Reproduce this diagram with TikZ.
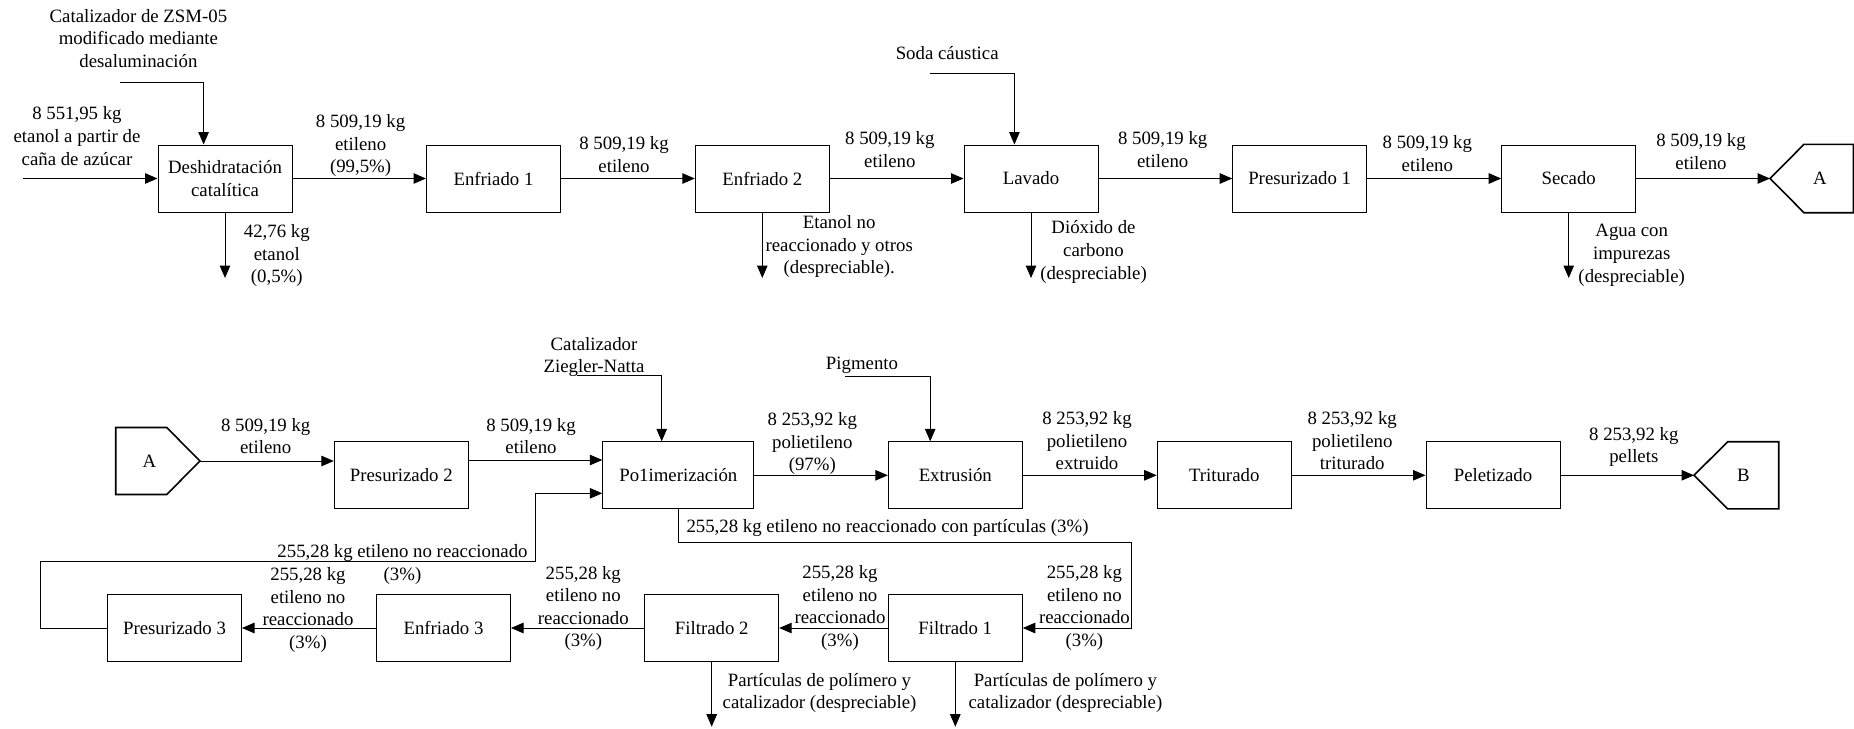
\documentclass[tikz,border=0pt]{standalone}
\usepackage{fontspec}
\setmainfont{Liberation Serif}
\usetikzlibrary{arrows.meta}
\begin{document}
\begin{tikzpicture}[x=1pt,y=-1pt,
  every node/.style={font=\fontsize{18.8}{22.6}\selectfont, inner sep=0pt},
  box/.style={draw, line width=1pt, minimum width=134pt, minimum height=67pt, align=center},
  widebox/.style={box, minimum width=151pt},
  lbl/.style={align=center},
  flow/.style={line width=1pt, -{Triangle[length=12.5pt,width=10.5pt]}},
  offpage/.style={draw, line width=1.6pt, line join=miter}
]
\useasboundingbox (0,0) rectangle (1854,728);

% ---------- ethylene production line ----------
\node[box] (deshi) at (225,178.5) {Deshidratación\\catalítica};
\node[box] (enf1) at (493.5,178.5) {Enfriado 1};
\node[box] (enf2) at (762.3,178.5) {Enfriado 2};
\node[box] (lav) at (1031,178.5) {Lavado};
\node[box] (pres1) at (1299.7,178.5) {Presurizado 1};
\node[box] (sec) at (1568.7,178.5) {Secado};

% off-page connector A (outgoing)
\coordinate (A1tip) at (1770,178.5);
\node (A1) at (1820,178.5) {A};
\draw[offpage] (A1tip) -- ++(34,-34.2) -- ++(49.3,0) -- ++(0,68.4) -- ++(-49.3,0) -- cycle;

\coordinate (inS) at (22.9,178.5);
\coordinate (catS) at (119.8,82);
\coordinate (sodaS) at (930.2,73);
\coordinate (deshiO) at (225,278);
\coordinate (enf2O) at (762.3,278);
\coordinate (lavO) at (1031,278);
\coordinate (secO) at (1568.7,278);

\draw[flow] (inS) -- (deshi.west);
\draw[flow] (catS) -| ([xshift=-21.4pt]deshi.north);
\draw[flow] (deshi) -- (enf1);
\draw[flow] (enf1) -- (enf2);
\draw[flow] (enf2) -- (lav);
\draw[flow] (sodaS) -| ([xshift=-16.6pt]lav.north);
\draw[flow] (lav) -- (pres1);
\draw[flow] (pres1) -- (sec);
\draw[flow] (sec) -- (A1tip);
\draw[flow] (deshi.south) -- (deshiO);
\draw[flow] (enf2.south) -- (enf2O);
\draw[flow] (lav.south) -- (lavO);
\draw[flow] (sec.south) -- (secO);

\node[lbl] (tIn) at (77,136) {8 551,95 kg\\etanol a partir de\\caña de azúcar};
\node[lbl] (tCat) at (138.4,38.5) {Catalizador de ZSM-05\\modificado mediante\\desaluminación};
\node[lbl] (t1) at (360.6,145.7) {8 509,19 kg\\etileno\\(99,5\%)};
\node[lbl] (tEt) at (276.8,255.7) {42,76 kg\\etanol\\(0,5\%)};
\node[lbl] (t2) at (624,154.5) {8 509,19 kg\\etileno};
\node[lbl] (t3) at (889.8,149.5) {8 509,19 kg\\etileno};
\node[lbl] (tSoda) at (947.2,53) {Soda cáustica};
\node[lbl] (tEnf2) at (839.2,246.5) {Etanol no\\reaccionado y otros\\(despreciable).};
\node[lbl] (tLav) at (1093.5,252) {Dióxido de\\carbono\\(despreciable)};
\node[lbl] (t4) at (1162.7,149.5) {8 509,19 kg\\etileno};
\node[lbl] (t5) at (1427.3,153.5) {8 509,19 kg\\etileno};
\node[lbl] (tSec) at (1631.7,255.3) {Agua con\\impurezas\\(despreciable)};
\node[lbl] (t6) at (1701,151.3) {8 509,19 kg\\etileno};

% ---------- polyethylene line ----------
% off-page connector A (incoming)
\coordinate (A2tip) at (200,461);
\node (A2) at (149.3,461) {A};
\draw[offpage] (A2tip) -- ++(-33.3,-33.5) -- ++(-51,0) -- ++(0,67) -- ++(51,0) -- cycle;

\node[box] (pres2) at (401.3,475.3) {Presurizado 2};
\node[widebox] (polim) at (678.3,475.3) {Po1imerización};
\node[box] (extr) at (955.3,475.3) {Extrusión};
\node[box] (trit) at (1224.2,475.3) {Triturado};
\node[box] (pelet) at (1493,475.3) {Peletizado};

% off-page connector B (outgoing)
\coordinate (Btip) at (1694,475.3);
\node (B) at (1743.3,475.3) {B};
\draw[offpage] (Btip) -- ++(33.7,-33.6) -- ++(51,0) -- ++(0,67.2) -- ++(-51,0) -- cycle;

% ---------- recovery of unreacted ethylene ----------
\node[box] (pres3) at (174.5,628) {Presurizado 3};
\node[box] (enf3) at (443.5,628) {Enfriado 3};
\node[box] (filt2) at (711.7,628) {Filtrado 2};
\node[box] (filt1) at (955.3,628) {Filtrado 1};

\coordinate (znS) at (577.3,375.7);
\coordinate (pigS) at (845.2,376);
\coordinate (f2O) at (711.7,726.7);
\coordinate (f1O) at (955.3,726.7);
\coordinate (recL) at (40,561.7);
\coordinate (recR) at (535.8,493.3);
\coordinate (sepR) at (1131.8,542.3);

\draw[flow] (A2tip) -- (A2tip -| pres2.west);
\draw[flow] ([yshift=15.3pt]pres2.east) -- ([yshift=15.3pt]pres2.east -| polim.west);
\draw[flow] (znS) -| ([xshift=-16.6pt]polim.north);
\draw[flow] (polim) -- (extr);
\draw[flow] (pigS) -| ([xshift=-25.1pt]extr.north);
\draw[flow] (extr) -- (trit);
\draw[flow] (trit) -- (pelet);
\draw[flow] (pelet) -- (Btip);
\draw[flow] (polim.south) |- (sepR) |- (filt1.east);
\draw[flow] (filt1) -- (filt2);
\draw[flow] (filt2) -- (enf3);
\draw[flow] (enf3) -- (pres3);
\draw[flow] (pres3.west) -| (recL) -| (recR) -- (recR -| polim.west);
\draw[flow] (filt2.south) -- (f2O);
\draw[flow] (filt1.south) -- (f1O);

\node[lbl] (tZN) at (594,357) {Catalizador\\Ziegler-Natta};
\node[lbl] (tPig) at (862,365) {Pigmento};
\node[lbl] (t7) at (265.7,436) {8 509,19 kg\\etileno};
\node[lbl] (t8) at (531,436) {8 509,19 kg\\etileno};
\node[lbl] (t9) at (812.3,443.8) {8 253,92 kg\\polietileno\\(97\%)};
\node[lbl] (t10) at (1087,440.6) {8 253,92 kg\\polietileno\\extruido};
\node[lbl] (t11) at (1352.2,440.6) {8 253,92 kg\\polietileno\\triturado};
\node[lbl] (t12) at (1633.8,447) {8 253,92 kg\\pellets};
\node[lbl] (t13) at (887.5,527.7) {255,28 kg etileno no reaccionado con partículas (3\%)};
\node[lbl] (t14) at (402.5,564.2) {255,28 kg etileno no reaccionado\\(3\%)};
\node[lbl] (t15) at (308,610) {255,28 kg\\etileno no\\reaccionado\\(3\%)};
\node[lbl] (t16) at (583.3,608.4) {255,28 kg\\etileno no\\reaccionado\\(3\%)};
\node[lbl] (t17) at (840,608) {255,28 kg\\etileno no\\reaccionado\\(3\%)};
\node[lbl] (t18) at (1084.4,608) {255,28 kg\\etileno no\\reaccionado\\(3\%)};
\node[lbl] (tF2) at (819.5,692.8) {Partículas de polímero y\\catalizador (despreciable)};
\node[lbl] (tF1) at (1065.4,692.8) {Partículas de polímero y\\catalizador (despreciable)};
\end{tikzpicture}
\end{document}
